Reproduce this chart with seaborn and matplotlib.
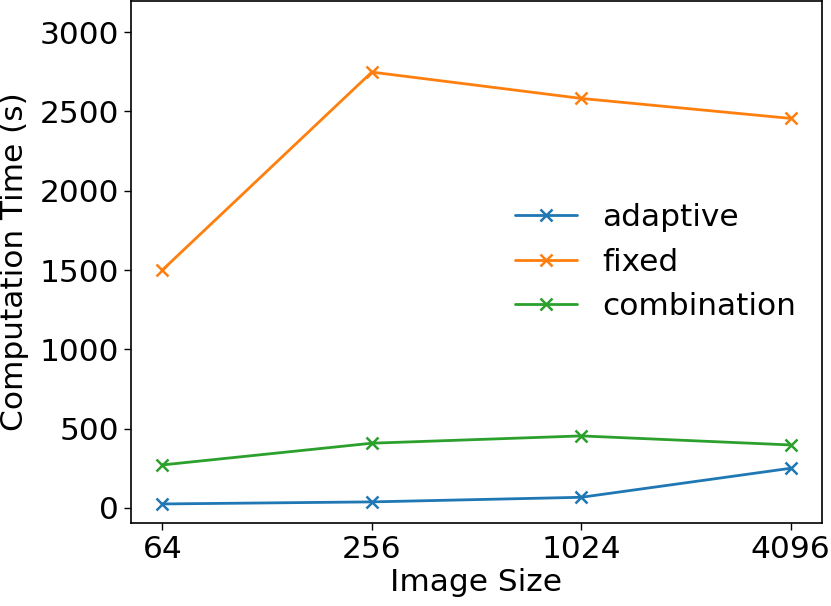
import matplotlib
matplotlib.use("Agg")
import matplotlib.pyplot as plt
import pandas as pd
import seaborn as sns

# mides d'imatge i temps de càlcul (s)
image_sizes = [64, 256, 1024, 4096]
adaptive = [25, 38, 67, 250]
fixed = [1500, 2748, 2582, 2456]
combination = [271, 408, 454, 397]

df = pd.DataFrame({
    "size": image_sizes * 3,
    "time": adaptive + fixed + combination,
    "method": ["adaptive"] * 4 + ["fixed"] * 4 + ["combination"] * 4,
})

sns.set_style("ticks")
plt.rcParams["font.family"] = ["DejaVu Sans"]
plt.rcParams["text.color"] = "black"
plt.rcParams["axes.labelcolor"] = "black"
plt.rcParams["xtick.color"] = "black"
plt.rcParams["ytick.color"] = "black"

fig = plt.figure(figsize=(8.31, 6.06), dpi=100)
ax = fig.add_axes([0.1576, 0.137, 0.8316, 0.861])

sns.lineplot(data=df, x="size", y="time", hue="method", marker="x",
             markersize=9, markeredgewidth=1.8, linewidth=2,
             palette=["#1f77b4", "#ff7f0e", "#2ca02c"], ax=ax)
for ln in ax.lines:
    ln.set_markeredgecolor(ln.get_color())

ax.set_xscale("log", base=2)
ax.set_xticks(image_sizes)
ax.set_xticklabels([str(s) for s in image_sizes])
ax.minorticks_off()
ax.set_ylim(-95, 3195)
ax.set_yticks([0, 500, 1000, 1500, 2000, 2500, 3000])
ax.tick_params(labelsize=22.5, length=5, width=1)
ax.set_xlabel("Image Size", fontsize=22.5, labelpad=3)
ax.set_ylabel("Computation Time (s)", fontsize=22.5, labelpad=8)
for s in ax.spines.values():
    s.set_visible(True)
    s.set_linewidth(1.2)
    s.set_color("black")

leg = ax.legend(loc="center left", bbox_to_anchor=(0.515, 0.50), frameon=False,
                fontsize=22.5, handlelength=2.0, labelspacing=0.5)
for ln in leg.get_lines():
    ln.set_markeredgecolor(ln.get_color())
    ln.set_marker("x")

fig.savefig("out.png", dpi=100)
